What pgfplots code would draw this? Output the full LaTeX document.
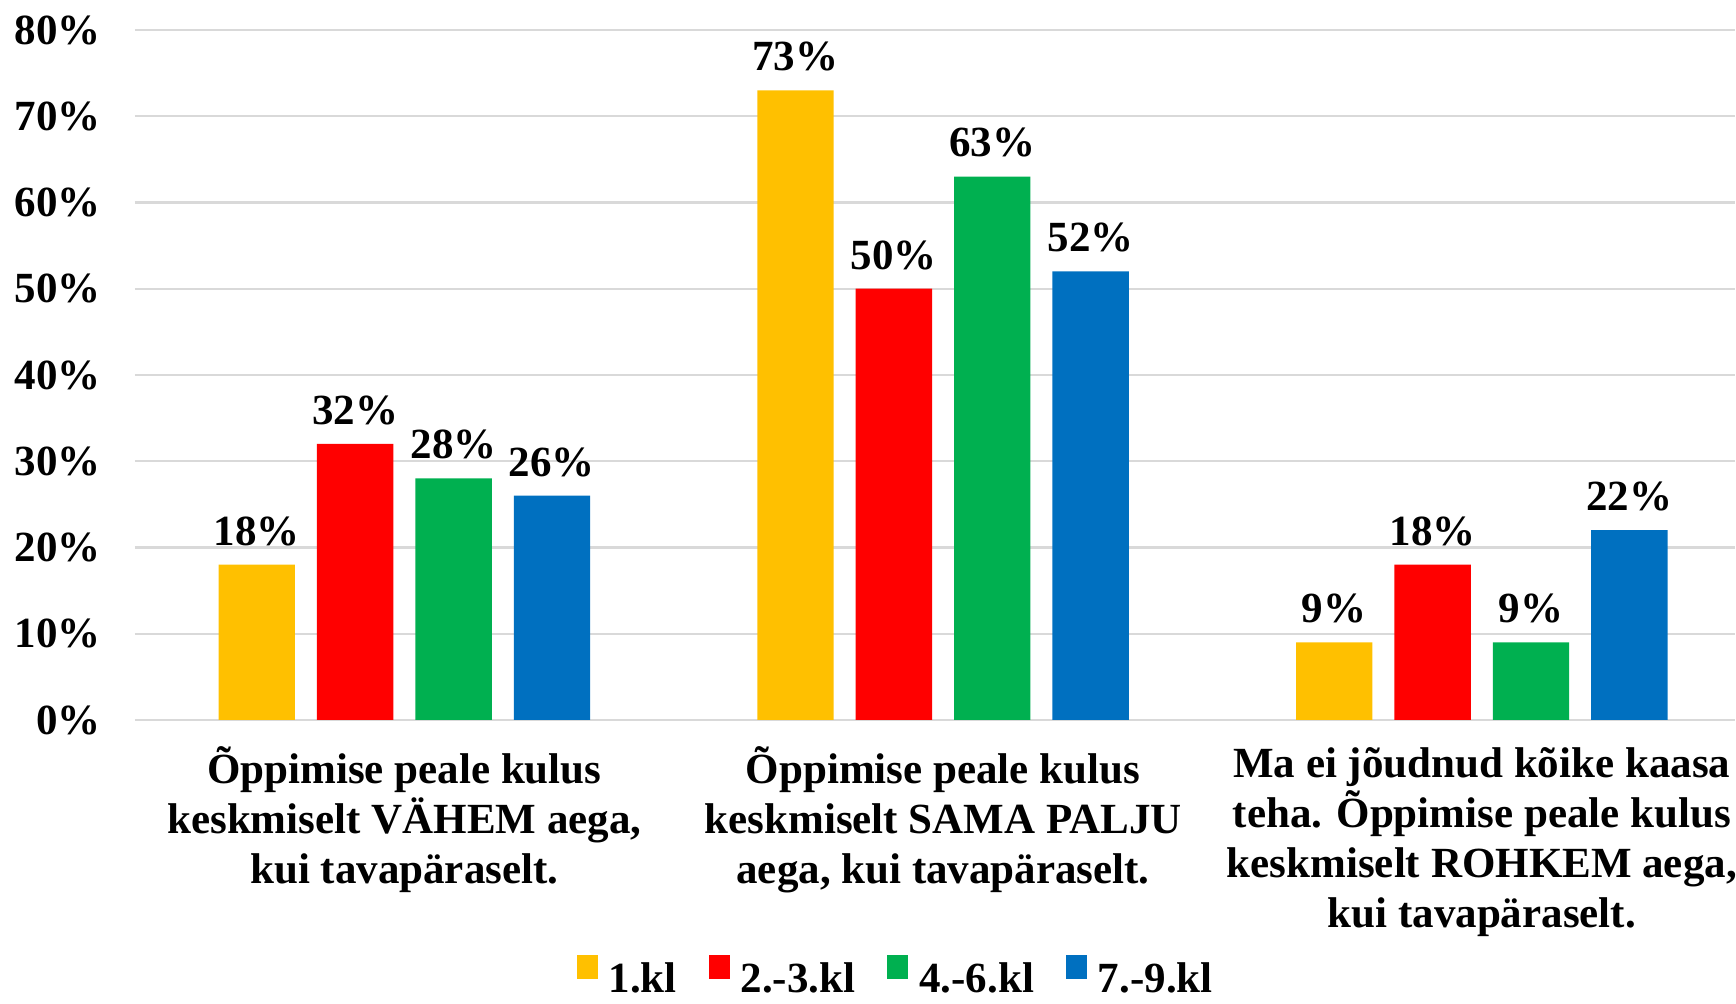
\documentclass[border=0pt]{standalone}
\usepackage{pgfplots}
\pgfplotsset{compat=1.18}
\usepackage{fontspec}
\setmainfont{Liberation Serif}
\definecolor{cYel}{HTML}{FFC000}
\definecolor{cRed}{HTML}{FF0000}
\definecolor{cGrn}{HTML}{00B050}
\definecolor{cBlu}{HTML}{0070C0}
\definecolor{cGrid}{HTML}{D9D9D9}
\newcommand{\cf}{\bfseries\fontsize{21.5}{25}\selectfont}
\begin{document}
\begin{tikzpicture}
\begin{axis}[
  scale only axis,
  width=800pt, height=345pt,
  ybar=11pt, bar width=38.2pt,
  xmin=-0.5, xmax=2.47,
  ymin=0, ymax=80,
  ytick={0,10,...,80},
  yticklabel={\pgfmathprintnumber{\tick}\%},
  /pgf/number format/assume math mode=true,
  xtick={0,1,2},
  xticklabels={{Õppimise peale kulus\\keskmiselt VÄHEM aega,\\kui tavapäraselt.},
               {Õppimise peale kulus\\keskmiselt SAMA PALJU\\aega, kui tavapäraselt.},
               {Ma ei jõudnud kõike kaasa\\teha. Õppimise peale kulus\\keskmiselt ROHKEM aega,\\kui tavapäraselt.}},
  xticklabel style={font=\cf, align=center, yshift=-10pt},
  yticklabel style={font=\cf, xshift=-13.5pt},
  major tick length=0pt,
  axis line style={draw=none},
  ymajorgrids, grid style={cGrid, line width=1.2pt},
  nodes near coords={\pgfmathprintnumber{\pgfplotspointmeta}\%},
  nodes near coords style={font=\cf, text=black, yshift=6pt},
  legend columns=4,
  legend style={draw=none, font=\cf, at={(0.476,-0.372)}, anchor=center,
    inner sep=0pt, nodes={inner ysep=1pt},
    /tikz/every odd column/.append style={column sep=3.5pt},
    /tikz/every even column/.append style={column sep=14pt}},
  legend image code/.code={\fill[#1] (0pt,0pt) rectangle (10.5pt,12pt);},
]
\addplot[fill=cYel, draw=none] coordinates {(0,18) (1,73) (2,9)};
\addplot[fill=cRed, draw=none] coordinates {(0,32) (1,50) (2,18)};
\addplot[fill=cGrn, draw=none] coordinates {(0,28) (1,63) (2,9)};
\addplot[fill=cBlu, draw=none] coordinates {(0,26) (1,52) (2,22)};
\legend{1.kl, 2.-3.kl, 4.-6.kl, 7.-9.kl}
\end{axis}
\pgfresetboundingbox
\path (-67.5pt,-142pt) rectangle (800.5pt,360pt);
\end{tikzpicture}
\end{document}
